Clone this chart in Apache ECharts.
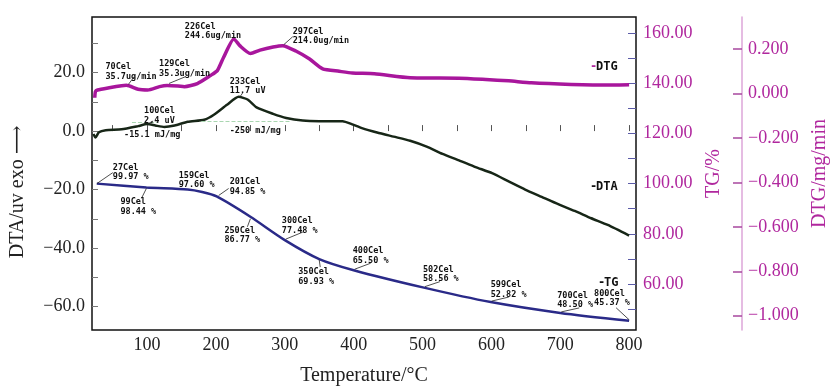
<!DOCTYPE html>
<html>
<head>
<meta charset="utf-8">
<script src="https://cdn.jsdelivr.net/npm/echarts@6/dist/echarts.min.js"></script>
<style>
  html, body { margin: 0; padding: 0; background: #fff; }
  #chart { width: 838px; height: 391px; }
</style>
</head>
<body>
<div id="chart"></div>
<script>
// DTG, mg/min
const dtgData = [
  [24, -0.02], [25, 0.008], [28, 0.015], [45, 0.025], [63, 0.034], [70, 0.0357], [87, 0.018],
  [101, 0.015], [118, 0.030], [129, 0.0353], [145, 0.033], [154, 0.030], [173, 0.044],
  [192, 0.080], [202, 0.102], [211, 0.161], [226, 0.2446], [235, 0.213], [250, 0.179],
  [264, 0.194], [283, 0.208], [297, 0.214], [316, 0.190], [336, 0.154], [355, 0.110],
  [379, 0.099], [398, 0.091], [430, 0.088], [482, 0.070], [553, 0.068], [592, 0.062],
  [625, 0.056], [658, 0.047], [716, 0.040], [773, 0.037], [800, 0.038]
];
// DTA, uV
const dtaData = [
  [22, -1.0], [25, -2.2], [30, -0.4], [40, 0.3], [63, 0.6], [87, 1.7], [100, 2.4], [112, 1.9],
  [125, 1.4], [140, 1.9], [159, 3.2], [183, 3.9], [197, 5.6], [216, 9.0], [233, 11.7],
  [246, 10.8], [259, 8.1], [283, 5.9], [302, 4.5], [326, 3.6], [350, 3.4], [384, 3.4],
  [398, 2.3], [412, 1.0], [434, -0.5], [458, -1.9], [482, -3.3], [506, -5.3], [529, -7.8],
  [553, -10.0], [577, -12.3], [601, -14.4], [625, -17.2], [649, -20.0], [673, -22.5],
  [697, -25.0], [721, -27.3], [745, -29.8], [769, -32.1], [800, -35.7]
];
// TG, %
const tgData = [
  [27, 99.97], [99, 98.44], [159, 97.60], [180, 96.6], [201, 94.85], [250, 86.77],
  [300, 77.48], [350, 69.93], [400, 65.50], [502, 58.56], [599, 52.82], [700, 48.50], [800, 45.37]
];

// annotations: [temperature, value]
const dtgNotes = [[70, 35.7], [129, 35.3], [226, 244.6], [297, 214.0]]; // ug/min
const dtaNotes = [[100, 2.4], [233, 11.7]];
const dtaEnthalpy = ['-15.1 mJ/mg', '-250 mJ/mg'];
const tgNotes = tgData.filter(d => d[0] !== 180);
const dtaBaselines = [[78, 115, 3.0], [179, 307, 3.45]];

const xTicks = [50, 100, 150, 200, 250, 300, 350, 400, 450, 500, 550, 600, 650, 700, 750, 800];
const xLabels = [100, 200, 300, 400, 500, 600, 700, 800];
const dtaTicks = [-60, -50, -40, -30, -20, -10, 0, 10, 20, 30];
const dtaLabels = [-60, -40, -20, 0, 20];
const tgTicks = [50, 60, 70, 80, 90, 100, 110, 120, 130, 140, 150, 160];
const tgLabels = [60, 80, 100, 120, 140, 160];
const dtgLabels = [-1.0, -0.8, -0.6, -0.4, -0.2, 0, 0.2];

// label offsets (px) from the curve point: [textDx, textDy, lineX1, lineY1, lineX2, lineY2]
const dtgOff = [[-21, -23, 2, -1, 8, -9], [-8, -26, 2, -2, 19, -9], [-49, -17], [10, -19, 1, -1, 10, -9]];
const dtaOff = [[-3, -18, 2, -1, 6, -3], [-9, -20, 2, -1, 4, -4]];
const enthOff = [[-23, 6], [-9, 29]];
const tgOff = [
  [16, -21, 0, 0, 16, -11], [-26, 10, 0, 1, -5, 11], [-9, -19], [13, -19, 2, -1, 12, -8],
  [-26, 9, 0, 2, -3, 10], [-3, -24, 1, -1, 18, -8], [-21, 8, 0, 1, 1, 8], [-1, -24, 1, -1, 17, -7],
  [-1, -23, 1, -1, 16, -6], [0, -22, 1, -1, 18, -5], [-3, -22, 1, -1, 19, -5], [-35, -32, 0, -1, -13, -13]
];

const MAG = '#b0279e';
const serif = '"Liberation Serif", "DejaVu Serif", serif';
const minus = s => s.replace('-', '\u2212');

const chart = echarts.init(document.getElementById('chart'));

chart.setOption({
  animation: false,
  backgroundColor: '#fff',
  grid: { left: 92, right: 193, top: 17, bottom: 54, show: true, borderColor: '#111', borderWidth: 1.5 },
  xAxis: {
    type: 'value', min: 20, max: 810,
    axisLine: { show: false },
    splitLine: { show: false },
    axisTick: { inside: true, length: 6, lineStyle: { color: '#555' }, customValues: xTicks },
    axisLabel: { customValues: xLabels, color: '#222', fontSize: 18, fontFamily: serif, margin: 6 },
    name: 'Temperature/\u00b0C', nameLocation: 'middle', nameGap: 36,
    nameTextStyle: { color: '#222', fontSize: 20, fontFamily: serif }
  },
  yAxis: [
    {
      type: 'value', min: -68, max: 39, position: 'left',
      axisLine: { show: false },
      splitLine: { show: false },
      axisTick: { inside: true, length: 6, lineStyle: { color: '#777' }, customValues: dtaTicks },
      axisLabel: { customValues: dtaLabels, color: '#222', fontSize: 18, fontFamily: serif, margin: 7,
        formatter: v => minus(v.toFixed(1)) }
    },
    {
      type: 'value', min: 41.7, max: 166.3, position: 'right',
      axisLine: { show: false },
      splitLine: { show: false },
      axisTick: { inside: true, length: 8, lineStyle: { color: '#5b5ba8' }, customValues: tgTicks },
      axisLabel: { customValues: tgLabels, color: MAG, fontSize: 18, fontFamily: serif, margin: 7,
        formatter: v => v.toFixed(2) },
      name: 'TG/%', nameLocation: 'middle', nameRotate: 90, nameGap: 64,
      nameTextStyle: { color: MAG, fontSize: 20, fontFamily: serif }
    },
    {
      type: 'value', min: -1.064, max: 0.343, position: 'right', offset: 106,
      axisLine: { show: true, lineStyle: { color: '#dca6d8', width: 1.5 } },
      splitLine: { show: false },
      axisTick: { inside: true, length: 9, lineStyle: { color: '#a8489e', width: 1.5 }, customValues: dtgLabels },
      axisLabel: { customValues: dtgLabels, color: MAG, fontSize: 18, fontFamily: serif, margin: 6,
        formatter: v => minus(v.toFixed(3)) },
      name: 'DTG/mg/min', nameLocation: 'middle', nameRotate: 90, nameGap: 68,
      nameTextStyle: { color: MAG, fontSize: 20, fontFamily: serif }
    }
  ],
  series: [
    {
      name: 'DTG', type: 'line', yAxisIndex: 2, data: dtgData, showSymbol: false,
      smooth: 0.2,
      lineStyle: { color: '#a8169c', width: 3.5 }
    },
    {
      name: 'DTA', type: 'line', yAxisIndex: 0, data: dtaData, showSymbol: false,
      smooth: 0.2,
      lineStyle: { color: '#172617', width: 2.5 },
      markLine: {
        silent: true, symbol: 'none', label: { show: false },
        lineStyle: { color: '#a9d6b0', type: 'dashed', width: 1 },
        data: dtaBaselines.map(b => [{ coord: [b[0], b[2]] }, { coord: [b[1], b[2]] }])
      }
    },
    {
      name: 'TG', type: 'line', yAxisIndex: 1, data: tgData, showSymbol: false,
      smooth: 0.25,
      lineStyle: { color: '#2a2a88', width: 2.5 }
    }
  ]
});

// annotations placed from the axes' own scales
const noteFont = 'bold 8.5px "DejaVu Sans Mono", monospace';
const graphics = [];
function addNote(axisIdx, pt, text, off) {
  const p = chart.convertToPixel({ xAxisIndex: 0, yAxisIndex: axisIdx }, pt);
  graphics.push({
    type: 'text', x: p[0] + off[0], y: p[1] + off[1], z: 10,
    style: { text, font: noteFont, fill: '#111', lineHeight: 9.5, align: 'left', verticalAlign: 'top' }
  });
  if (off.length > 2) {
    graphics.push({
      type: 'line', z: 10,
      shape: { x1: p[0] + off[2], y1: p[1] + off[3], x2: p[0] + off[4], y2: p[1] + off[5] },
      style: { stroke: '#222', lineWidth: 0.8 }
    });
  }
}
dtgNotes.forEach((n, i) => addNote(2, [n[0], n[1] / 1000], n[0] + 'Cel\n' + n[1].toFixed(1) + 'ug/min', dtgOff[i]));
dtaNotes.forEach((n, i) => {
  addNote(0, n, n[0] + 'Cel\n' + n[1].toFixed(1) + ' uV', dtaOff[i]);
  addNote(0, n, dtaEnthalpy[i], enthOff[i]);
});
tgNotes.forEach((n, i) => addNote(1, n, n[0] + 'Cel\n' + n[1].toFixed(2) + ' %', tgOff[i]));

// curve tags at the right side of the plot
const tagFont = 'bold 12px "DejaVu Sans Mono", monospace';
[['DTG', 590, 61, MAG], ['DTA', 590, 181, '#111'], ['TG', 598, 277, '#111']].forEach(t => {
  graphics.push({ type: 'text', x: t[1], y: t[2], style: { text: '-', font: tagFont, fill: t[3] } });
  graphics.push({ type: 'text', x: t[1] + 6, y: t[2], style: { text: t[0], font: tagFont, fill: '#111' } });
});

// left axis title, set a little below the plot middle as in the source
graphics.push({
  type: 'text', x: 18, y: 192, rotation: Math.PI / 2,
  style: { text: 'DTA/uv exo \u27f6', font: '20px ' + serif, fill: '#222', align: 'center', verticalAlign: 'middle' }
});

chart.setOption({ graphic: graphics });
</script>
</body>
</html>
